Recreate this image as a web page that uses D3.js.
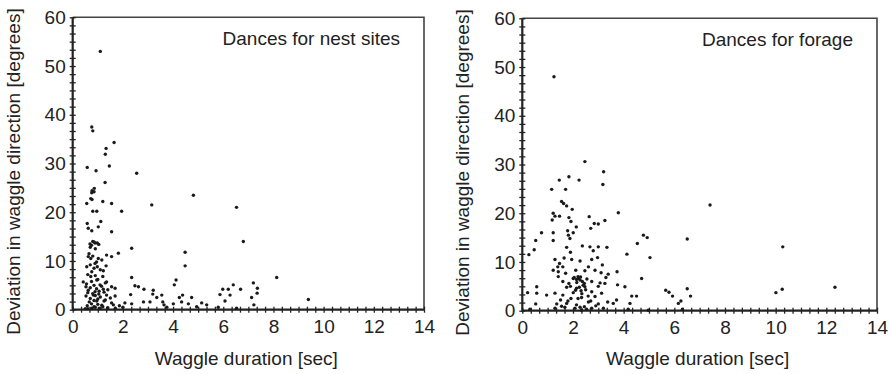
<html>
    <head>
        <script src="https://d3js.org/d3.v7.min.js"></script>
        <style>
            body { margin: 0; background: #fff; }
            text { font-family: "Liberation Sans", Arial, sans-serif; fill: #222; }
        </style>
    </head>
    <body>
        <svg id="svg" width="890" height="374"></svg>
        <script>
            // [waggle duration (sec), deviation (degrees)]
            var nestSites = [
                [1.1,53],[0.76,37.5],[0.8,36.7],[1.65,34.3],[1.33,33.1],[1.3,31.9],[0.58,29.2],[1.46,29.5],[0.93,28.5],
                [2.55,28.0],[1.29,26.1],[0.86,24.9],[0.77,24.4],[4.81,23.5],[0.72,22.8],[0.77,22.6],[0.56,21.8],[1.2,22.2],
                [1.55,21.8],[3.15,21.5],[6.53,21.0],[0.8,20.2],[0.96,20.2],[1.95,20.2],[0.58,17.7],[1.12,18.1],[0.62,16.7],
                [1.02,17.0],[0.76,16.2],[1.55,16.0],[6.8,14.0],[0.8,14.0],[0.89,13.7],[0.98,13.7],[0.69,13.5],[1.04,13.4],
                [2.35,12.6],[4.48,11.8],[1.35,11.2],[1.82,11.6],[0.62,10.9],[0.72,10.5],[1.02,10.5],[1.55,10.9],[1.16,10.2],
                [0.89,9.5],[0.56,8.8],[0.98,8.8],[1.33,9.0],[4.48,9.0],[0.76,7.8],[1.22,8.0],[0.72,6.8],[8.13,6.6],[2.35,6.6],
                [4.12,6.1],[0.42,5.7],[0.96,6.1],[1.35,5.7],[0.53,4.7],[1.09,5.1],[1.55,4.7],[6.4,5.1],[7.2,5.5],[4.05,5.1],
                [2.48,4.9],[2.62,4.7],[0.62,4.0],[0.89,3.7],[1.22,4.2],[1.69,4.4],[2.84,4.2],[3.21,4.0],[5.98,4.2],[6.2,4.2],
                [6.69,4.2],[7.36,4.4],[0.53,2.8],[0.82,3.0],[1.04,3.2],[1.35,3.0],[1.69,2.8],[2.31,3.1],[3.19,3.2],[3.55,3.0],
                [4.38,3.0],[4.74,2.5],[5.87,3.1],[6.27,3.0],[7.35,3.4],[3.35,2.5],[4.25,2.5],[7.13,2.5],[9.39,2.1],[0.66,1.6],
                [0.96,1.8],[1.25,1.8],[1.55,1.4],[3.08,1.6],[3.59,1.6],[4.34,1.6],[5.14,1.4],[6.07,1.8],[2.08,1.4],[2.35,1.2],
                [2.82,1.6],[4.01,1.2],[4.61,1.2],[0.58,0.8],[0.85,0.6],[1.16,0.9],[1.62,1.0],[1.86,0.8],[3.64,1.0],[5.34,1.0],
                [7.22,1.0],[4.94,0.6],[0.76,0.3],[1.09,0.3],[5.8,0.5],[3.75,0.5],[6.53,0.3],
                [0.7,12.8],[0.75,13.2],[0.85,13.9],[0.9,12.5],[0.65,11.5],[0.8,11.0],[0.95,9.8],[0.7,9.2],[0.85,8.5],[1.1,8.2],
                [0.6,7.2],[0.9,7.0],[1.2,6.8],[1.0,6.2],[0.75,5.8],[0.55,5.3],[1.3,5.5],[0.85,5.0],[1.15,4.8],[0.7,4.5],
                [0.95,4.3],[1.4,4.1],[1.05,3.8],[0.6,3.5],[0.8,3.3],[1.25,3.6],[0.9,2.9],[1.1,2.6],[0.7,2.3],[1.0,2.2],
                [1.3,2.0],[0.85,1.9],[1.5,2.4],[0.75,1.2],[1.0,1.1],[1.2,0.6],[0.9,0.5],[1.4,0.4],[0.6,0.2],[1.7,0.3],
                [2.0,0.5],[0.5,0.2],[0.85,24.2],[0.76,24.0]
            ];
            var forage = [
                [1.25,48.0],[2.47,30.6],[3.21,28.5],[3.18,25.9],[1.46,26.8],[1.84,27.5],[2.24,26.8],[1.16,24.9],[1.71,24.9],
                [7.41,21.7],[1.55,22.4],[1.63,22.0],[1.75,21.5],[1.97,20.8],[1.22,20.0],[1.29,19.4],[1.47,19.4],[1.18,18.6],
                [3.79,20.1],[2.64,19.3],[1.84,19.1],[1.92,18.3],[2.13,17.2],[2.84,17.9],[3.0,17.8],[3.26,18.5],[2.7,16.9],
                [0.76,16.0],[1.22,16.0],[1.79,16.4],[1.82,15.5],[2.01,16.0],[1.88,14.8],[4.78,15.5],[4.93,15.0],[6.51,14.7],
                [0.53,14.4],[1.22,14.4],[4.54,13.8],[10.28,13.1],[1.75,13.0],[2.37,13.3],[2.67,13.1],[3.0,13.1],[3.34,13.0],
                [2.8,12.3],[0.26,11.5],[0.47,12.5],[4.13,11.6],[5.04,10.9],[1.29,10.5],[1.47,9.7],[1.95,10.5],[2.28,10.2],
                [2.74,10.5],[2.97,10.9],[3.16,9.4],[2.61,9.0],[1.6,9.0],[1.22,8.3],[1.42,8.0],[1.71,7.7],[2.11,8.3],[2.47,8.2],
                [2.87,8.3],[3.11,7.8],[3.39,7.5],[3.74,8.0],[1.42,7.0],[2.01,6.6],[2.14,6.4],[2.21,6.6],[2.28,6.3],[2.37,6.0],
                [2.45,5.6],[4.71,6.6],[1.6,6.0],[1.84,5.6],[2.74,6.0],[3.07,5.7],[3.26,5.6],[0.21,3.7],[0.57,4.9],[0.57,3.6],
                [0.96,3.2],[1.29,3.6],[3.76,5.3],[4.05,4.9],[5.66,4.2],[5.79,3.8],[5.93,3.0],[6.51,4.5],[6.64,3.0],[10.01,3.7],
                [10.26,4.4],[12.34,4.8],[1.75,4.8],[2.14,4.6],[2.47,4.9],[2.32,4.1],[2.01,3.7],[2.74,3.9],[3.13,3.6],[4.32,3.0],
                [4.51,3.0],[1.6,3.2],[1.51,2.2],[1.92,2.5],[2.34,2.7],[2.87,2.9],[3.37,1.8],[3.72,2.2],[0.53,1.4],[1.36,1.4],
                [1.75,1.5],[2.14,1.2],[2.61,1.8],[3.0,1.4],[3.59,1.5],[4.25,1.5],[6.16,1.5],[6.26,2.0],[1.29,0.5],[1.68,0.7],
                [2.08,0.5],[2.28,0.7],[2.45,0.8],[2.74,0.5],[3.2,0.5],[2.34,0.1],[2.54,0.3],[4.18,0.3],[4.97,0.1],[6.32,0.3],
                [0.3,0.3],[2.05,6.8],[2.2,7.0],[2.3,6.9],[2.15,5.8],[2.4,5.2],[2.25,4.8],[2.5,4.3],[2.1,4.2],[2.35,3.5],
                [2.6,3.0],[1.9,5.0],[2.55,6.5],[1.8,2.0],[2.2,2.5],[2.7,2.0],[2.9,1.0],[1.55,0.9],[3.3,6.8],[3.0,5.0],
                [1.4,9.0],[1.65,10.8],[1.9,12.0]
            ];
            var xTicks = [0,2,4,6,8,10,12,14];
            var yTicks = [0,10,20,30,40,50,60];
            var xLabel = "Waggle duration [sec]";
            var yLabel = "Deviation in waggle direction [degrees]";

            var svg = d3.select("svg");

            var panels = [
                {data: nestSites, title: "Dances for nest sites", left: 72.7, right: 424, top: 17.3, bottom: 309.7},
                {data: forage, title: "Dances for forage", left: 522.3, right: 877, top: 18.3, bottom: 310.7}
            ];

            var xMinor = d3.range(0, 14.01, 1/3);
            var yMinor = d3.range(0, 60.01, 10/6);

            panels.forEach(function(p){
                var x = d3.scaleLinear().domain([0,14]).range([p.left, p.right]);
                var y = d3.scaleLinear().domain([0,60]).range([p.bottom, p.top]);
                var g = svg.append("g");

                // frame top/right
                g.append("path")
                    .attr("d","M"+p.left+" "+p.top+"H"+p.right+"V"+p.bottom)
                    .attr("fill","none").attr("stroke","#444").attr("stroke-width",1.6);

                // minor ticks crossing the axes
                [3,-3].forEach(function(s){
                    g.append("g").attr("transform","translate(0,"+p.bottom+")")
                        .call(d3.axisBottom(x).tickValues(xMinor).tickSize(s).tickFormat(""))
                        .call(function(a){ a.select(".domain").remove(); a.selectAll("line").attr("stroke","#222").attr("stroke-width",1.3); });
                    g.append("g").attr("transform","translate("+p.left+",0)")
                        .call(d3.axisLeft(y).tickValues(yMinor).tickSize(s).tickFormat(""))
                        .call(function(a){ a.select(".domain").remove(); a.selectAll("line").attr("stroke","#222").attr("stroke-width",1.3); });
                });

                // tick labels
                g.append("g").attr("transform","translate(0,"+p.bottom+")")
                    .call(d3.axisBottom(x).tickValues(xTicks).tickSize(0).tickPadding(10))
                    .call(function(a){ a.select(".domain").remove(); a.selectAll("text").style("font-size","19px").attr("fill","#222"); });
                g.append("g").attr("transform","translate("+p.left+",0)")
                    .call(d3.axisLeft(y).tickValues(yTicks).tickSize(0).tickPadding(7))
                    .call(function(a){ a.select(".domain").remove(); a.selectAll("text").style("font-size","19px").attr("fill","#222"); });

                // main axis lines
                g.append("path")
                    .attr("d","M"+p.left+" "+p.top+"V"+p.bottom+"H"+p.right)
                    .attr("fill","none").attr("stroke","#222").attr("stroke-width",2.2);

                g.selectAll("circle").data(p.data).enter().append("circle")
                    .attr("cx", function(d){ return x(d[0]); })
                    .attr("cy", function(d){ return y(d[1]); })
                    .attr("r", 1.7)
                    .attr("fill","#1a1a1a");

                g.append("text").attr("x", p.right - 24).attr("y", p.top + 28)
                    .attr("text-anchor","end").style("font-size","19px").text(p.title);

                g.append("text").attr("x",(p.left+p.right)/2 - 2).attr("y", 365)
                    .attr("text-anchor","middle").style("font-size","19px").text(xLabel);

                g.append("text")
                    .attr("transform","translate("+(p.left-53)+","+((p.top+p.bottom)/2+8)+") rotate(-90)")
                    .attr("text-anchor","middle").style("font-size","19px").text(yLabel);
            });
        </script>
    </body>
</html>
